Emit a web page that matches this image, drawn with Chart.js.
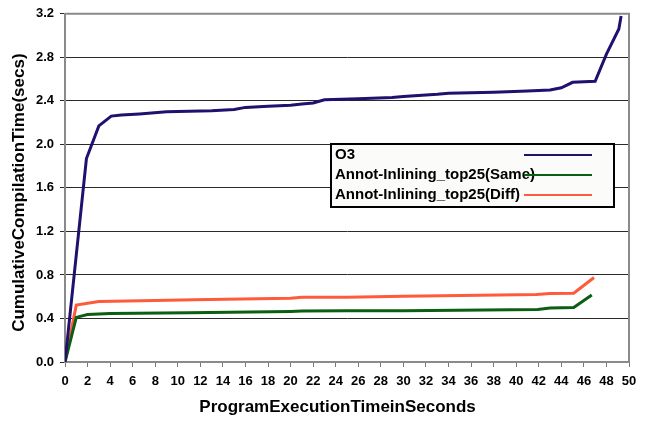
<!DOCTYPE html>
<html>
<head>
<meta charset="utf-8">
<script src="https://cdn.jsdelivr.net/npm/chart.js@4/dist/chart.umd.min.js"></script>
<style>
  html, body { margin: 0; padding: 0; background: #fff; }
  #chart { display: block; }
</style>
</head>
<body>
<canvas id="chart" width="647" height="423"></canvas>
<script>
// series (x = seconds, y = secs)
const seriesNames = ['O3', 'Annot-Inlining_top25(Same)', 'Annot-Inlining_top25(Diff)'];

const o3X = [0, 1.9, 3.0, 4.1, 5, 6.6, 9, 11, 13, 15, 16, 18, 20, 21, 22, 23, 26, 29, 30, 33, 34, 38, 41, 43, 44, 45, 47, 48, 49.1, 49.3];
const o3Y = [0, 1.87, 2.17, 2.26, 2.27, 2.28, 2.30, 2.305, 2.31, 2.32, 2.34, 2.35, 2.36, 2.37, 2.38, 2.41, 2.42, 2.43, 2.44, 2.46, 2.47, 2.48, 2.49, 2.50, 2.52, 2.57, 2.58, 2.83, 3.06, 3.18];

const sameX = [0, 1, 2, 4, 11, 20, 21, 25, 30, 41.9, 43, 45.1, 46.7];
const sameY = [0, 0.41, 0.437, 0.446, 0.452, 0.465, 0.468, 0.47, 0.472, 0.483, 0.497, 0.50, 0.615];

const diffX = [0, 1, 3, 8, 11.4, 20, 21, 25, 30, 41.8, 43, 45.1, 46.9];
const diffY = [0, 0.523, 0.555, 0.565, 0.572, 0.585, 0.595, 0.595, 0.605, 0.62, 0.63, 0.632, 0.777];

const xTicks = [0, 2, 4, 6, 8, 10, 12, 14, 16, 18, 20, 22, 24, 26, 28, 30, 32, 34, 36, 38, 40, 42, 44, 46, 48, 50];
const yTicks = [0.0, 0.4, 0.8, 1.2, 1.6, 2.0, 2.4, 2.8, 3.2];

const colors = ['#21106e', '#0b5e12', '#ff5a3a'];

function toPoints(xs, ys) {
    return xs.map((x, i) => ({ x: x, y: ys[i] }));
}

// gray frame on top/right of the plot area
const framePlugin = {
    id: 'frame',
    beforeDatasetsDraw(chart) {
        const a = chart.chartArea;
        const ctx = chart.ctx;
        ctx.save();
        ctx.strokeStyle = '#8a8a8a';
        ctx.lineWidth = 2;
        ctx.beginPath();
        ctx.moveTo(a.left, a.top);
        ctx.lineTo(a.right, a.top);
        ctx.lineTo(a.right, a.bottom);
        ctx.stroke();
        ctx.restore();
    }
};

// legend box: label on the left, line sample on the right
const boxLegend = {
    id: 'boxLegend',
    afterDraw(chart, args, opts) {
        const ctx = chart.ctx;
        ctx.save();
        ctx.fillStyle = '#fbfbf9';
        ctx.fillRect(opts.left, opts.top, opts.width, opts.height);
        ctx.strokeStyle = '#000';
        ctx.lineWidth = 2;
        ctx.strokeRect(opts.left, opts.top, opts.width, opts.height);
        ctx.font = 'bold 15px "Liberation Sans", Arial, sans-serif';
        ctx.textBaseline = 'middle';
        chart.data.datasets.forEach((ds, i) => {
            const y = opts.top + opts.rowTop + i * opts.rowGap;
            ctx.fillStyle = '#000';
            ctx.fillText(ds.label, opts.left + 4, y);
            ctx.strokeStyle = ds.borderColor;
            ctx.lineWidth = 2;
            ctx.beginPath();
            ctx.moveTo(opts.lineX0, y);
            ctx.lineTo(opts.lineX1, y);
            ctx.stroke();
        });
        ctx.restore();
    }
};

const tickFont = { family: '"Liberation Sans", Arial, sans-serif', size: 13, weight: 'bold' };
const titleFont = { family: '"Liberation Sans", Arial, sans-serif', size: 17, weight: 'bold' };

new Chart(document.getElementById('chart'), {
    type: 'scatter',
    data: {
        datasets: [
            { label: seriesNames[0], data: toPoints(o3X, o3Y) },
            { label: seriesNames[1], data: toPoints(sameX, sameY) },
            { label: seriesNames[2], data: toPoints(diffX, diffY) }
        ].map((ds, i) => Object.assign(ds, {
            showLine: true,
            borderColor: colors[i],
            backgroundColor: colors[i],
            borderWidth: 3,
            pointRadius: 0,
            tension: 0
        }))
    },
    options: {
        responsive: false,
        animation: false,
        devicePixelRatio: 1,
        layout: { padding: { left: 0, right: 18, top: 13, bottom: 0 } },
        plugins: {
            legend: { display: false },
            tooltip: { enabled: false },
            boxLegend: { left: 331, top: 144, width: 283, height: 63, rowTop: 11, rowGap: 20, lineX0: 524, lineX1: 592 }
        },
        scales: {
            x: {
                type: 'linear',
                min: 0,
                max: 50,
                afterBuildTicks: (s) => { s.ticks = xTicks.map(v => ({ value: v })); },
                afterFit: (s) => { s.height = 61; },
                ticks: { color: '#000', font: tickFont, padding: 7, maxRotation: 0, autoSkip: false },
                grid: { drawOnChartArea: false, tickLength: 5, color: '#777', lineWidth: 1 },
                border: { color: '#8a8a8a', width: 2 },
                title: {
                    display: true,
                    text: 'ProgramExecutionTimeinSeconds    ',
                    color: '#000',
                    font: titleFont,
                    padding: { top: 4, bottom: 5 }
                }
            },
            y: {
                min: 0,
                max: 3.2,
                afterBuildTicks: (s) => { s.ticks = yTicks.map(v => ({ value: v })); },
                afterFit: (s) => { s.width = 65; },
                ticks: {
                    color: '#000',
                    font: tickFont,
                    padding: 6,
                    callback: (v) => v.toFixed(1)
                },
                grid: { color: '#2a2a2a', lineWidth: 1, tickLength: 5 },
                border: { color: '#8a8a8a', width: 2 },
                title: {
                    display: true,
                    text: 'CumulativeCompilationTime(secs)  ',
                    color: '#000',
                    font: titleFont,
                    padding: { top: 9, bottom: 0 }
                }
            }
        }
    },
    plugins: [framePlugin, boxLegend]
});
</script>
</body>
</html>
